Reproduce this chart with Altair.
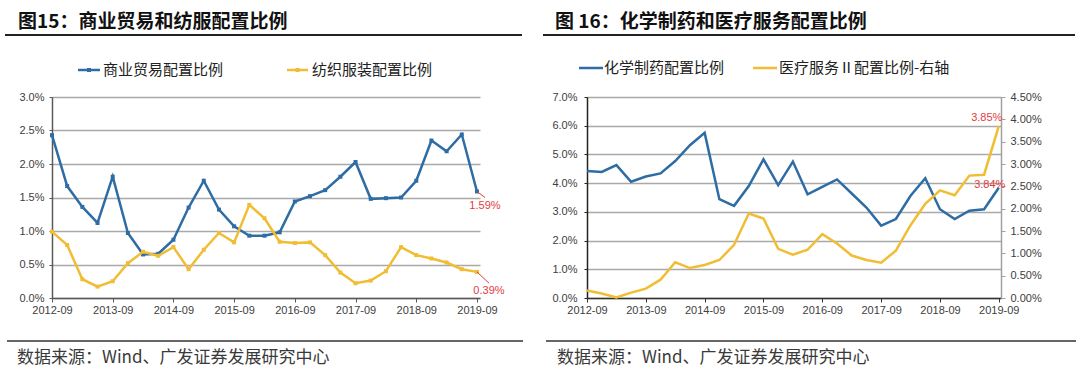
import json
import altair as alt
import pandas as pd

# ---------------- data ----------------
quarters = ["2012-09", "2012-12", "2013-03", "2013-06", "2013-09", "2013-12",
            "2014-03", "2014-06", "2014-09", "2014-12", "2015-03", "2015-06",
            "2015-09", "2015-12", "2016-03", "2016-06", "2016-09", "2016-12",
            "2017-03", "2017-06", "2017-09", "2017-12", "2018-03", "2018-06",
            "2018-09", "2018-12", "2019-03", "2019-06", "2019-09"]

commerce = [2.43, 1.67, 1.36, 1.12, 1.81, 0.97, 0.65, 0.66, 0.87, 1.35, 1.75, 1.32,
            1.07, 0.93, 0.93, 0.98, 1.44, 1.52, 1.61, 1.81, 2.03, 1.48, 1.49, 1.50,
            1.75, 2.35, 2.19, 2.44, 1.59]
textile = [0.99, 0.79, 0.28, 0.17, 0.25, 0.52, 0.69, 0.63, 0.76, 0.43, 0.72, 0.97,
           0.83, 1.39, 1.19, 0.84, 0.82, 0.83, 0.64, 0.38, 0.22, 0.26, 0.40, 0.76,
           0.64, 0.59, 0.53, 0.43, 0.39]
chem = [4.42, 4.39, 4.63, 4.05, 4.23, 4.34, 4.77, 5.32, 5.75, 3.44, 3.21, 3.90,
        4.83, 3.93, 4.75, 3.61, 3.87, 4.13, 3.64, 3.15, 2.52, 2.75, 3.56, 4.17,
        3.09, 2.75, 3.04, 3.09, 3.84]
medsvc = [0.17, 0.10, 0.01, 0.12, 0.21, 0.41, 0.80, 0.67, 0.74, 0.85, 1.19, 1.89,
          1.78, 1.10, 0.97, 1.08, 1.43, 1.22, 0.95, 0.85, 0.79, 1.06, 1.63, 2.11,
          2.41, 2.30, 2.74, 2.76, 3.85]

left_title = "图15：商业贸易和纺服配置比例"
right_title = "图 16：化学制药和医疗服务配置比例"
left_legend = ["商业贸易配置比例", "纺织服装配置比例"]
right_legend = ["化学制药配置比例", "医疗服务Ⅱ配置比例-右轴"]
source_text = "数据来源：Wind、广发证券发展研究中心"
left_yticks = [0, 0.5, 1.0, 1.5, 2.0, 2.5, 3.0]
right_yticks_l = [0, 1, 2, 3, 4, 5, 6, 7]
right_yticks_r = [0, 0.5, 1.0, 1.5, 2.0, 2.5, 3.0, 3.5, 4.0, 4.5]

# ---------------- style ----------------
BLUE = "#2e6ca4"
YELLOW = "#f0bd33"
RED = "#e23c3f"
CJK = "Noto Sans CJK SC"
LAT = "Liberation Sans"
GRID = "#a9a9a9"
AXC = "#404040"

idx = list(range(len(quarters)))
tick_idx = [i for i, q in enumerate(quarters) if q.endswith("-09")]
label_expr = json.dumps(quarters) + "[datum.value]"

df_left = pd.DataFrame({"i": idx, "commerce": commerce, "textile": textile})
df_right = pd.DataFrame({"i": idx, "chem": chem, "med": medsvc})


def one():
    return alt.Data(values=[{"a": 1}])


def txt(x, y, s, size, color, weight="normal", font=CJK, align="left"):
    return alt.Chart(one()).mark_text(
        align=align, baseline="middle", fontSize=size, font=font,
        fontWeight=weight, color=color
    ).encode(x=alt.value(x), y=alt.value(y), text=alt.value(s))


def hline(x1, x2, y, color, width):
    return alt.Chart(one()).mark_rule(color=color, strokeWidth=width).encode(
        x=alt.value(x1), x2=alt.value(x2), y=alt.value(y))


def sq(x, y, color):
    return alt.Chart(one()).mark_square(color=color, size=16, opacity=1).encode(
        x=alt.value(x), y=alt.value(y))


def bg(x1, x2, y1, y2):
    return alt.Chart(one()).mark_rect(fill="white", opacity=0).encode(
        x=alt.value(x1), x2=alt.value(x2), y=alt.value(y1), y2=alt.value(y2))


def x_enc(domain_max, dom_color):
    return alt.X("i:Q", scale=alt.Scale(domain=[0, domain_max], nice=False, zero=False),
                 axis=alt.Axis(values=tick_idx, labelExpr=label_expr, title=None, grid=False,
                               tickCount=40,
                               domainColor=dom_color, tickColor=dom_color, tickSize=4,
                               domainWidth=1.5, labelFont=LAT, labelFontSize=11,
                               labelColor=AXC, labelPadding=2, labelFlush=False,
                               labelOverlap=False))


# ---------------- left panel ----------------
LW, LH = 428, 201
xl = x_enc(28.2, "#595959")
yl_axis = alt.Axis(values=left_yticks, tickCount=40, labelExpr="format(datum.value,'.1f')+'%'",
                   title=None, grid=True, gridColor=GRID, gridWidth=1.5,
                   domainColor="#595959", domainWidth=1.5, tickColor="#595959", tickSize=3,
                   labelFont=LAT, labelFontSize=11, labelColor=AXC, labelPadding=5,
                   labelOverlap=False)
yl_scale = alt.Scale(domain=[0, 3], nice=False)

base_l = alt.Chart(df_left)
line_c = base_l.mark_line(color=BLUE, strokeWidth=2.5,
                          point=alt.OverlayMarkDef(shape="square", size=16, filled=True, color=BLUE)
                          ).encode(x=xl, y=alt.Y("commerce:Q", scale=yl_scale, axis=yl_axis))
line_t = base_l.mark_line(color=YELLOW, strokeWidth=2.5,
                          point=alt.OverlayMarkDef(shape="square", size=16, filled=True, color=YELLOW)
                          ).encode(x=xl, y=alt.Y("textile:Q", scale=yl_scale, axis=yl_axis))

end_l = pd.DataFrame({
    "i": [idx[-1], idx[-1]],
    "v": [commerce[-1], textile[-1]],
    "i2": [idx[-1] + 0.53, idx[-1] + 0.8],
    "v2": [commerce[-1] - 0.09, textile[-1] - 0.17],
    "t": [f"{commerce[-1]:.2f}%", f"{textile[-1]:.2f}%"],
})
lead_l = alt.Chart(end_l).mark_rule(color=RED, strokeWidth=1).encode(
    x="i:Q", x2="i2:Q", y=alt.Y("v:Q", axis=yl_axis), y2="v2:Q")
lab_l1 = alt.Chart(end_l.iloc[[0]]).mark_text(color=RED, font=LAT, fontSize=11, dx=8, dy=15).encode(
    x="i:Q", y=alt.Y("v:Q", axis=yl_axis), text="t:N")
lab_l2 = alt.Chart(end_l.iloc[[1]]).mark_text(color=RED, font=LAT, fontSize=11, dx=12, dy=19).encode(
    x="i:Q", y=alt.Y("v:Q", axis=yl_axis), text="t:N")

left = alt.layer(
    bg(-52, 488, -97, 279),
    txt(-34, -75, left_title, 19, "#111111", weight="bold"),
    hline(-47, 470, -62, "#222222", 2),
    hline(26, 48, -27, BLUE, 2.5), sq(37, -27, BLUE),
    txt(51, -27, left_legend[0], 15, "#222222"),
    hline(235, 256, -27, YELLOW, 2.5), sq(245.5, -27, YELLOW),
    txt(260, -27, left_legend[1], 15, "#222222"),
    hline(-45, 471, 244, "#333333", 1.5),
    txt(-35, 261, source_text, 17, "#3a3a3a"),
    line_c, line_t, lead_l, lab_l1, lab_l2,
).properties(width=LW, height=LH)

# ---------------- right panel ----------------
RW, RH = 414, 201
xr = x_enc(28.15, "#333333")
base_r = alt.Chart(df_right)
yr_axis_l = alt.Axis(values=right_yticks_l, tickCount=40, labelExpr="format(datum.value,'.1f')+'%'",
                     title=None, grid=True, gridColor=GRID, gridWidth=1.5,
                     domainColor="#222222", domainWidth=1.5, tickColor="#222222", tickSize=3,
                     labelFont=LAT, labelFontSize=11, labelColor=AXC, labelPadding=7,
                     labelOverlap=False)
yr_axis_r = alt.Axis(values=right_yticks_r, tickCount=40, orient="right",
                     labelExpr="format(datum.value,'.2f')+'%'",
                     title=None, grid=False, domainColor="#a0a0a0", domainWidth=1.5,
                     tickColor="#a0a0a0", tickSize=4,
                     labelFont=LAT, labelFontSize=11, labelColor=AXC, labelPadding=5,
                     labelOverlap=False)
yr_scale_l = alt.Scale(domain=[0, 7], nice=False)
yr_scale_r = alt.Scale(domain=[0, 4.5], nice=False)

chem_line = base_r.mark_line(color=BLUE, strokeWidth=2.5).encode(
    x=xr, y=alt.Y("chem:Q", scale=yr_scale_l, axis=yr_axis_l))
chem_lab = alt.Chart(pd.DataFrame({"i": [idx[-1]], "chem": [chem[-1]],
                                   "t": [f"{chem[-1]:.2f}%"]})).mark_text(
    color=RED, font=LAT, fontSize=11, dx=-9, dy=-3).encode(
    x="i:Q", y=alt.Y("chem:Q", scale=yr_scale_l, axis=yr_axis_l), text="t:N")
med_line = base_r.mark_line(color=YELLOW, strokeWidth=2.5).encode(
    x=xr, y=alt.Y("med:Q", scale=yr_scale_r, axis=yr_axis_r))
med_lab = alt.Chart(pd.DataFrame({"i": [idx[-1]], "med": [medsvc[-1]],
                                  "t": [f"{medsvc[-1]:.2f}%"]})).mark_text(
    color=RED, font=LAT, fontSize=11, dx=-12, dy=-8).encode(
    x="i:Q", y=alt.Y("med:Q", scale=yr_scale_r, axis=yr_axis_r), text="t:N")

right = alt.layer(
    bg(-47, 493, -97, 279),
    txt(-32, -75, right_title, 19, "#111111", weight="bold"),
    hline(-44, 488, -62, "#222222", 2),
    hline(-8, 16, -29, BLUE, 2.5),
    txt(17, -29, right_legend[0], 15, "#222222"),
    hline(166, 190, -29, YELLOW, 2.5),
    txt(192, -29, right_legend[1], 15, "#222222"),
    hline(-41, 489, 244, "#333333", 1.5),
    txt(-30, 261, source_text, 17, "#3a3a3a"),
    alt.layer(chem_line, chem_lab),
    alt.layer(med_line, med_lab),
).resolve_scale(y="independent").properties(width=RW, height=RH)

chart = alt.hconcat(left, right, spacing=0).properties(padding=0, background="white").configure_view(
    stroke=None).configure_concat(spacing=0)

chart.save("out.html", embed_options={"renderer": "svg", "actions": False})
